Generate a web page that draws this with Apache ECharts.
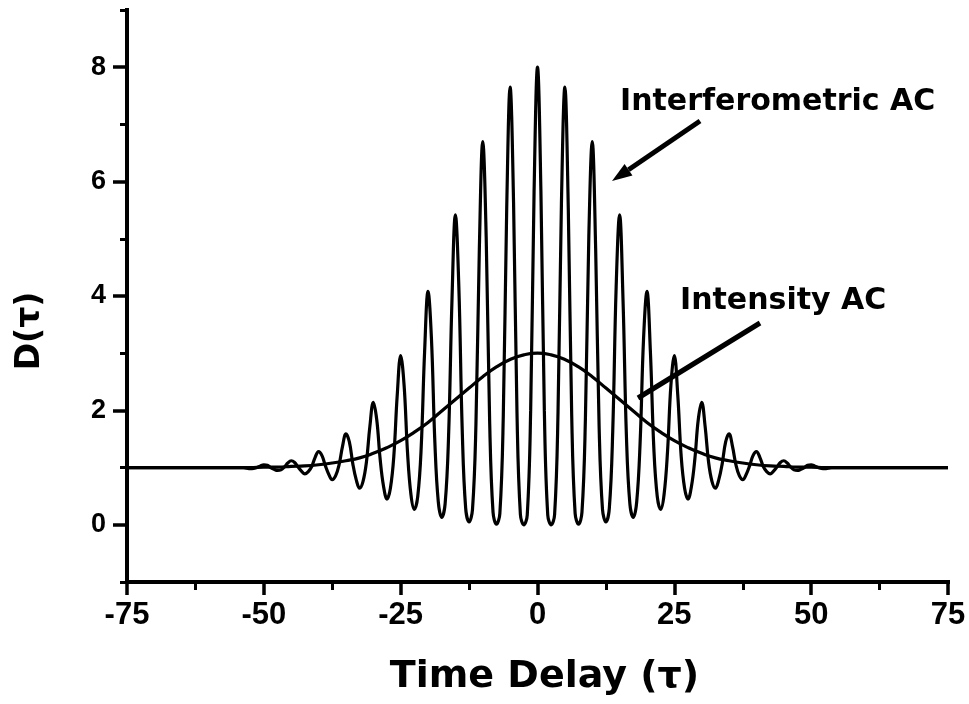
<!DOCTYPE html>
<html>
<head>
<meta charset="utf-8">
<script src="https://cdn.jsdelivr.net/npm/echarts@6/dist/echarts.min.js"></script>
<style>
  html, body { margin: 0; padding: 0; background: #fff; }
  #chart { width: 969px; height: 704px; }
</style>
</head>
<body>
<div id="chart"></div>
<script>
// Autocorrelation traces sampled for τ ≥ 0; both are symmetric about τ = 0.
// Fringe trace: eight samples per optical period (period = 5).
const fringeDelay = [
  0, 0.625, 1.25, 1.875, 2.5, 3.125, 3.75, 4.375,
  5, 5.625, 6.25, 6.875, 7.5, 8.125, 8.75, 9.375,
  10, 10.625, 11.25, 11.875, 12.5, 13.125, 13.75, 14.375,
  15, 15.625, 16.25, 16.875, 17.5, 18.125, 18.75, 19.375,
  20, 20.625, 21.25, 21.875, 22.5, 23.125, 23.75, 24.375,
  25, 25.625, 26.25, 26.875, 27.5, 28.125, 28.75, 29.375,
  30, 30.625, 31.25, 31.875, 32.5, 33.125, 33.75, 34.375,
  35, 35.625, 36.25, 36.875, 37.5, 38.125, 38.75, 39.375,
  40, 40.625, 41.25, 41.875, 42.5, 43.125, 43.75, 44.375,
  45, 45.625, 46.25, 46.875, 47.5, 48.125, 48.75, 49.375,
  50, 50.625, 51.25, 51.875, 52.5, 53.125, 53.75, 54.375,
  55, 75];
const fringeSignal = [
  8.00, 5.82, 2.00, 0.17, 0.00, 0.18, 1.97, 5.64,
  7.65, 5.53, 1.91, 0.20, 0.01, 0.22, 1.84, 5.03,
  6.70, 4.83, 1.75, 0.27, 0.05, 0.29, 1.65, 4.17,
  5.42, 3.93, 1.54, 0.37, 0.13, 0.40, 1.44, 3.25,
  4.08, 3.03, 1.35, 0.50, 0.27, 0.53, 1.27, 2.44,
  2.96, 2.27, 1.20, 0.64, 0.45, 0.67, 1.15, 1.84,
  2.14, 1.72, 1.10, 0.76, 0.64, 0.79, 1.07, 1.45,
  1.59, 1.37, 1.05, 0.86, 0.79, 0.88, 1.03, 1.21,
  1.28, 1.18, 1.02, 0.93, 0.89, 0.94, 1.01, 1.09,
  1.12, 1.08, 1.01, 0.96, 0.95, 0.97, 1.00, 1.04,
  1.05, 1.03, 1.00, 0.985, 0.98, 0.99, 1.00, 1.00,
  1.00, 1.00];

const intensityDelay = [0, 2.5, 5, 7.5, 10, 12.5, 15, 17.5, 20, 22.5, 25, 27.5,
  30, 32.5, 35, 37.5, 40, 42.5, 45, 47.5, 50, 52.5, 55, 75];
const intensitySignal = [3.00, 2.97, 2.89, 2.76, 2.59, 2.39, 2.19, 1.99, 1.79, 1.62, 1.47, 1.35,
  1.25, 1.17, 1.12, 1.08, 1.05, 1.03, 1.02, 1.01, 1.01, 1.00, 1.00, 1.00];

const yMajorValues = [0, 2, 4, 6, 8];
const yMinorValues = [-1, 1, 3, 5, 7, 9];

// Reflect the τ ≥ 0 half onto negative delays.
function mirrored(delays, values) {
  const out = [];
  for (let i = delays.length - 1; i >= 1; i--) out.push([-delays[i], values[i]]);
  for (let i = 0; i < delays.length; i++) out.push([delays[i], values[i]]);
  return out;
}

const ink = '#000';
const chart = echarts.init(document.getElementById('chart'), null, { renderer: 'canvas' });

chart.setOption({
  animation: false,
  backgroundColor: '#fff',
  grid: { left: 127, right: 21, top: 10, bottom: 122 },
  xAxis: {
    type: 'value', min: -75, max: 75, interval: 25,
    axisLine: { show: true, onZero: false, lineStyle: { color: ink, width: 4, cap: 'square' } },
    axisTick: { show: true, inside: false, length: 13, lineStyle: { color: ink, width: 3.5 } },
    minorTick: { show: true, splitNumber: 2, length: 8, lineStyle: { color: ink, width: 3 } },
    splitLine: { show: false },
    minorSplitLine: { show: false },
    axisLabel: { color: ink, fontFamily: 'Liberation Sans', fontWeight: 'bold', fontSize: 31, margin: 18 },
    name: 'Time Delay (τ)', nameLocation: 'middle', nameGap: 76,
    nameTextStyle: { color: ink, fontFamily: 'DejaVu Sans', fontWeight: 'bold', fontSize: 38,
      padding: [0, 0, 0, 14] }
  },
  yAxis: [{
    type: 'value', min: -1, max: 9, position: 'left', offset: 0,
    axisLine: { show: true, onZero: false, lineStyle: { color: ink, width: 4, cap: 'square' } },
    axisTick: { show: true, inside: false, length: 14, customValues: yMajorValues,
      lineStyle: { color: ink, width: 3.5 } },
    splitLine: { show: false },
    axisLabel: { customValues: yMajorValues, color: ink, fontFamily: 'Liberation Sans',
      fontWeight: 'bold', fontSize: 27, margin: 21 },
    name: 'D(τ)', nameLocation: 'middle', nameGap: 80,
    nameTextStyle: { color: ink, fontFamily: 'DejaVu Sans', fontWeight: 'bold', fontSize: 33,
      padding: [0, 70, 0, 0] }
  }, {
    type: 'value', min: -1, max: 9, position: 'left', offset: 0,
    axisLine: { show: false, onZero: false },
    axisTick: { show: true, inside: false, length: 7, customValues: yMinorValues,
      lineStyle: { color: ink, width: 3 } },
    splitLine: { show: false },
    axisLabel: { show: false }
  }],
  series: [{
    name: 'Interferometric AC', type: 'line', yAxisIndex: 0,
    data: mirrored(fringeDelay, fringeSignal),
    showSymbol: false, smooth: 0.4, silent: true,
    lineStyle: { color: ink, width: 3.2 }
  }, {
    name: 'Intensity AC', type: 'line', yAxisIndex: 0,
    data: mirrored(intensityDelay, intensitySignal),
    showSymbol: false, smooth: true, silent: true,
    lineStyle: { color: ink, width: 3.2 }
  }]
});

// Callout labels with their pointer lines
function arrowHead(from, to, len, half) {
  const dx = to[0] - from[0], dy = to[1] - from[1];
  const d = Math.hypot(dx, dy), ux = dx / d, uy = dy / d;
  const bx = to[0] - ux * len, by = to[1] - uy * len;
  return [to, [bx - uy * half, by + ux * half], [bx + uy * half, by - ux * half]];
}
const calloutFont = 'bold 30px "DejaVu Sans"';
const ifStart = [700, 121], ifTip = [612, 181];
const ifHead = arrowHead(ifStart, ifTip, 20, 7);
chart.setOption({
  graphic: [
    { type: 'text', left: 620, top: 87, silent: true,
      style: { text: 'Interferometric AC', font: calloutFont, fill: ink } },
    { type: 'line', silent: true,
      shape: { x1: ifStart[0], y1: ifStart[1],
        x2: (ifHead[1][0] + ifHead[2][0]) / 2, y2: (ifHead[1][1] + ifHead[2][1]) / 2 },
      style: { stroke: ink, lineWidth: 5 } },
    { type: 'polygon', silent: true, shape: { points: ifHead }, style: { fill: ink } },
    { type: 'text', left: 680, top: 286, silent: true,
      style: { text: 'Intensity AC', font: calloutFont, fill: ink } },
    { type: 'line', silent: true,
      shape: { x1: 760, y1: 323, x2: 638, y2: 398 },
      style: { stroke: ink, lineWidth: 5 } }
  ]
});
</script>
</body>
</html>
